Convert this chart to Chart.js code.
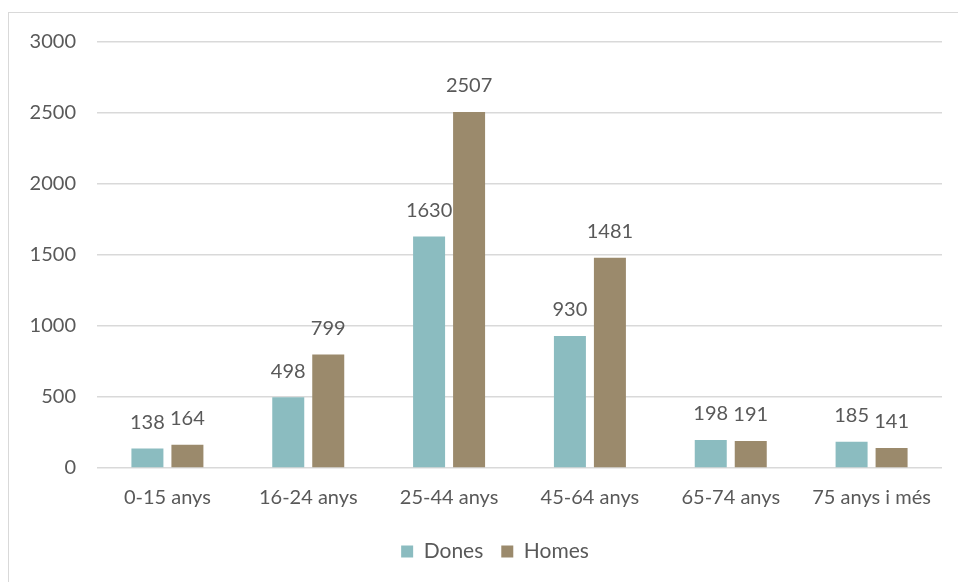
<!DOCTYPE html>
<html>
<head>
<meta charset="utf-8">
<script src="https://cdn.jsdelivr.net/npm/chart.js@4/dist/chart.umd.min.js"></script>
<style>
  html, body { margin: 0; padding: 0; background: #fff; overflow: hidden; }
  #wrap { position: relative; width: 958px; height: 582px; }
  #frame { position: absolute; left: 8px; top: 12px; width: 1000px; height: 1000px;
           border: 1.5px solid #d9d9d9; box-sizing: border-box; }
  canvas { position: absolute; left: 0; top: 0; }
</style>
</head>
<body>
<div id="wrap">
  <div id="frame"></div>
  <canvas id="c" width="958" height="582"></canvas>
</div>
<script>
const categories = ['0-15 anys', '16-24 anys', '25-44 anys', '45-64 anys', '65-74 anys', '75 anys i més'];
const dones = [138, 498, 1630, 930, 198, 185];
const homes = [164, 799, 2507, 1481, 191, 141];
const yTicks = [0, 500, 1000, 1500, 2000, 2500, 3000];

const textColor = '#595959';
const fontFamily = 'Lato, "Open Sans", sans-serif';

// Writes each bar's value just above it
const valueLabels = {
  id: 'valueLabels',
  afterDatasetsDraw(chart) {
    const ctx = chart.ctx;
    ctx.save();
    ctx.fillStyle = textColor;
    ctx.font = '20px ' + fontFamily;
    ctx.textAlign = 'center';
    ctx.textBaseline = 'middle';
    chart.data.datasets.forEach((ds, i) => {
      const meta = chart.getDatasetMeta(i);
      meta.data.forEach((bar, j) => {
        ctx.fillText(String(ds.data[j]), bar.x, bar.y - 26);
      });
    });
    ctx.restore();
  }
};

// Centres the legend under the plot area rather than the whole canvas
const legendShift = {
  id: 'legendShift',
  afterLayout(chart) {
    const lg = chart.legend;
    if (lg) { lg.left += 24; lg.right += 24; }
  }
};

new Chart(document.getElementById('c'), {
  type: 'bar',
  data: {
    labels: categories,
    datasets: [
      { label: 'Dones', data: dones, backgroundColor: '#8bbcc0', borderWidth: 0 },
      { label: 'Homes', data: homes, backgroundColor: '#9b8a6c', borderWidth: 0 }
    ]
  },
  options: {
    responsive: false,
    animation: false,
    devicePixelRatio: 1,
    layout: { padding: { left: 0, right: 16, top: 42, bottom: 10 } },
    datasets: { bar: { categoryPercentage: 0.568, barPercentage: 0.8 } },
    plugins: {
      legend: {
        position: 'bottom',
        labels: {
          color: textColor,
          font: { family: fontFamily, size: 21 },
          boxWidth: 12,
          boxHeight: 12,
          padding: 18
        }
      },
      tooltip: { enabled: false }
    },
    scales: {
      x: {
        grid: { display: false, drawTicks: false },
        border: { display: false },
        ticks: { color: textColor, font: { family: fontFamily, size: 20 }, padding: 18, maxRotation: 0 },
        afterFit(scale) { scale.height = 55; }
      },
      y: {
        min: 0,
        max: 3000,
        afterBuildTicks(scale) { scale.ticks = yTicks.map(v => ({ value: v })); },
        grid: { color: '#d9d9d9', lineWidth: 1.5, drawTicks: false },
        border: { display: false },
        ticks: {
          color: textColor,
          font: { family: fontFamily, size: 20 },
          padding: 21,
          callback: v => String(v)
        },
        afterFit(scale) { scale.width = 97; }
      }
    }
  },
  plugins: [valueLabels, legendShift]
});
</script>
</body>
</html>
